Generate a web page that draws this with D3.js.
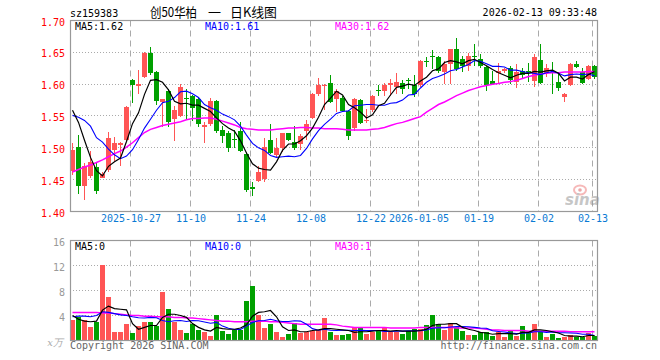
<!DOCTYPE html>
<html><head><meta charset="utf-8">
<script src="https://cdn.jsdelivr.net/npm/d3@7/dist/d3.min.js"></script>
<style>body{margin:0;background:#fff}svg{display:block}</style>
</head><body><svg id="c" width="660" height="360"></svg>
<script>
// ---------- data ----------
const tickIdx = [10,20,30,40,50,58,68,78,87];
const tickLabels = ["2025-10-27","11-10","11-24","12-08","12-22","2026-01-05","01-19","02-02","02-13"];
const priceTicks = [1.40,1.45,1.50,1.55,1.60,1.65,1.70];
const volTicks = [4,8,12,16];

const opens = [1.464,1.501,1.440,1.456,1.470,1.453,1.465,1.496,1.504,1.513,
1.606,1.597,1.612,1.649,1.619,1.572,1.589,1.545,1.550,1.579,
1.581,1.577,1.533,1.537,1.574,1.528,1.523,1.514,1.527,1.490,
1.438,1.448,1.451,1.513,1.489,1.500,1.523,1.509,1.506,1.527,
1.547,1.584,1.597,1.602,1.576,1.579,1.558,1.531,1.575,1.542,
1.560,1.591,1.589,1.598,1.595,1.602,1.606,1.599,1.598,1.637,
1.644,1.642,1.619,1.632,1.655,1.640,1.628,1.645,1.640,1.627,
1.605,1.617,1.620,1.626,1.604,1.620,1.620,1.605,1.638,1.617,
1.619,1.604,1.580,1.598,1.632,1.619,1.608,1.628];
const highs = [1.507,1.520,1.476,1.495,1.478,1.462,1.525,1.517,1.509,1.565,
1.608,1.622,1.650,1.658,1.621,1.577,1.592,1.566,1.600,1.593,
1.583,1.580,1.540,1.578,1.575,1.535,1.526,1.528,1.541,1.494,
1.446,1.472,1.515,1.538,1.515,1.524,1.524,1.534,1.521,1.543,
1.586,1.610,1.601,1.615,1.593,1.581,1.560,1.578,1.577,1.561,
1.583,1.599,1.602,1.608,1.617,1.606,1.610,1.614,1.638,1.643,
1.653,1.644,1.637,1.656,1.672,1.645,1.649,1.663,1.648,1.629,
1.621,1.634,1.626,1.628,1.632,1.626,1.633,1.647,1.663,1.632,
1.635,1.619,1.586,1.634,1.637,1.626,1.630,1.630];
const lows = [1.457,1.428,1.418,1.452,1.428,1.452,1.462,1.480,1.471,1.511,
1.570,1.585,1.610,1.614,1.567,1.533,1.532,1.510,1.548,1.546,
1.542,1.533,1.508,1.535,1.523,1.508,1.493,1.500,1.493,1.430,
1.425,1.447,1.446,1.490,1.485,1.494,1.511,1.497,1.496,1.512,
1.545,1.582,1.559,1.570,1.556,1.556,1.513,1.526,1.537,1.539,
1.556,1.581,1.582,1.582,1.585,1.585,1.593,1.580,1.596,1.627,
1.624,1.618,1.601,1.601,1.620,1.619,1.621,1.629,1.625,1.590,
1.600,1.600,1.618,1.600,1.594,1.610,1.603,1.596,1.600,1.612,
1.585,1.590,1.572,1.597,1.625,1.600,1.606,1.608];
const closes = [1.497,1.440,1.472,1.477,1.432,1.459,1.515,1.507,1.507,1.564,
1.598,1.600,1.649,1.617,1.573,1.576,1.541,1.560,1.596,1.578,
1.562,1.537,1.536,1.574,1.527,1.518,1.500,1.513,1.495,1.433,
1.436,1.462,1.502,1.492,1.500,1.523,1.513,1.500,1.519,1.538,
1.584,1.598,1.599,1.572,1.590,1.558,1.519,1.576,1.539,1.544,
1.581,1.590,1.598,1.602,1.604,1.593,1.605,1.584,1.637,1.636,
1.643,1.620,1.632,1.655,1.624,1.629,1.645,1.643,1.628,1.598,
1.601,1.620,1.624,1.607,1.619,1.614,1.619,1.643,1.602,1.626,
1.618,1.594,1.584,1.632,1.627,1.602,1.628,1.612];

const ma5 = [1.559,1.540,1.512,1.485,1.464,1.456,1.471,1.478,1.484,1.510,
1.538,1.555,1.584,1.606,1.607,1.603,1.591,1.573,1.569,1.570,
1.567,1.567,1.562,1.557,1.547,1.538,1.531,1.526,1.511,1.492,
1.475,1.468,1.466,1.465,1.478,1.496,1.506,1.506,1.511,1.519,
1.531,1.548,1.568,1.578,1.589,1.583,1.568,1.563,1.556,1.547,
1.552,1.566,1.570,1.583,1.595,1.597,1.600,1.598,1.605,1.611,
1.621,1.624,1.634,1.637,1.635,1.632,1.637,1.639,1.634,1.629,
1.623,1.618,1.614,1.610,1.614,1.617,1.617,1.620,1.619,1.621,
1.622,1.617,1.605,1.611,1.611,1.608,1.615,1.620];
const ma10 = [1.551,1.548,1.543,1.534,1.516,1.509,1.498,1.489,1.483,1.487,
1.497,1.513,1.531,1.545,1.559,1.571,1.573,1.579,1.588,1.589,
1.585,1.579,1.568,1.563,1.559,1.553,1.549,1.544,1.534,1.520,
1.507,1.500,1.496,1.488,1.485,1.486,1.487,1.486,1.488,1.499,
1.514,1.527,1.537,1.545,1.554,1.557,1.558,1.566,1.567,1.568,
1.568,1.567,1.567,1.570,1.571,1.575,1.583,1.584,1.594,1.603,
1.609,1.612,1.616,1.621,1.623,1.627,1.631,1.637,1.636,1.632,
1.628,1.628,1.627,1.622,1.622,1.620,1.618,1.617,1.615,1.618,
1.620,1.617,1.613,1.615,1.616,1.615,1.616,1.613];
const ma30 = [1.462,1.466,1.470,1.473,1.477,1.481,1.486,1.491,1.495,1.501,
1.508,1.516,1.524,1.529,1.532,1.535,1.537,1.539,1.541,1.544,
1.546,1.546,1.547,1.547,1.545,1.542,1.539,1.536,1.532,1.530,
1.529,1.528,1.528,1.528,1.529,1.530,1.531,1.531,1.532,1.532,
1.531,1.531,1.530,1.530,1.530,1.529,1.528,1.528,1.528,1.528,
1.529,1.530,1.532,1.535,1.538,1.540,1.543,1.546,1.549,1.556,
1.562,1.568,1.572,1.577,1.582,1.586,1.590,1.593,1.596,1.598,
1.600,1.601,1.603,1.604,1.606,1.609,1.612,1.614,1.616,1.617,
1.618,1.618,1.619,1.619,1.619,1.619,1.620,1.620];

const volumes = [3.3,3.8,3.3,2.1,3.0,12.1,7.0,1.4,1.4,2.7,
1.2,2.3,3.0,3.0,2.3,7.8,5.0,3.0,1.7,1.2,
2.7,1.7,1.4,0.7,4.1,1.5,1.1,1.7,1.7,6.3,
8.7,4.1,2.0,2.7,1.4,0.6,1.1,2.8,1.2,1.4,
1.5,1.7,3.6,1.4,0.9,0.9,1.1,2.1,2.0,1.1,
1.4,1.6,2.1,1.4,1.4,1.1,1.6,1.9,1.9,2.5,
4.1,2.6,1.7,2.8,2.1,1.5,0.9,0.9,1.3,1.3,
0.8,1.3,0.6,1.5,0.8,2.3,1.3,2.7,1.3,0.6,
1.1,0.4,0.6,0.9,0.6,0.6,1.2,0.7];
const volMa5 = [4.0,3.4,3.1,3.0,3.1,4.86,5.5,5.1,5.0,4.9,
2.7,1.8,2.1,2.4,2.4,3.7,4.2,4.2,4.0,3.7,
2.7,2.1,1.7,1.5,2.1,1.9,1.8,1.8,2.0,2.5,
3.9,4.5,4.6,4.8,3.8,2.2,1.6,1.7,1.4,1.4,
1.6,1.7,1.9,1.9,1.8,1.7,1.6,1.3,1.4,1.4,
1.5,1.6,1.6,1.5,1.6,1.5,1.5,1.5,1.6,1.8,
2.4,2.6,2.6,2.7,2.7,2.1,1.8,1.6,1.3,1.2,
1.0,1.1,1.1,1.1,1.0,1.3,1.3,1.7,1.7,1.6,
1.4,1.2,0.8,0.7,0.7,0.6,0.8,0.8];
const volMa10 = [3.8,3.9,3.9,3.8,4.0,4.6,4.5,4.3,4.1,4.0,
3.8,3.65,3.6,3.7,3.65,3.2,3.0,3.15,3.2,3.05,
3.2,3.15,2.95,2.75,2.9,2.3,1.95,1.75,1.75,2.3,
2.9,3.15,3.2,3.4,3.15,3.05,3.05,3.15,3.1,2.6,
1.9,1.65,1.8,1.65,1.6,1.65,1.65,1.6,1.65,1.6,
1.6,1.6,1.45,1.45,1.5,1.5,1.55,1.55,1.55,1.7,
1.95,2.05,2.05,2.15,2.25,2.25,2.2,2.1,2.0,1.95,
1.55,1.45,1.35,1.2,1.1,1.15,1.2,1.4,1.4,1.3,
1.35,1.25,1.25,1.2,1.15,1.0,1.0,0.8];
const volMa30 = [4.5,4.5,4.5,4.5,4.5,4.4,4.4,4.3,4.2,4.1,
4.0,4.0,3.9,3.9,3.8,3.8,3.8,3.7,3.7,3.6,
3.6,3.5,3.4,3.3,3.2,3.1,3.1,3.0,3.0,3.0,
3.1,3.1,3.1,3.0,3.0,2.9,2.8,2.7,2.6,2.6,
2.6,2.6,2.6,2.6,2.5,2.3,2.2,2.1,2.1,2.1,
2.1,2.1,2.1,2.0,2.0,2.0,2.0,2.0,2.1,2.1,
2.1,2.1,2.1,2.1,2.0,2.0,2.0,2.0,1.9,1.8,
1.7,1.7,1.6,1.6,1.6,1.6,1.5,1.5,1.5,1.5,
1.5,1.5,1.5,1.4,1.4,1.4,1.4,1.4];

// ---------- drawing ----------
const RED = "#ff5555", GREEN = "#00a000", GRID = "#aaaaaa", BORDER = "#999999";
const MONO = "'DejaVu Sans Mono', monospace";
const CJK = "'Noto Sans CJK SC', sans-serif";
const svg = d3.select("#c");
const N = closes.length;
const left = 70, right = 597.5;
const x = d3.scaleLinear().domain([0, 88]).range([70, 598]);
const y = d3.scaleLinear().domain([1.40, 1.70]).range([211.5, 20.5]);
const yv = d3.scaleLinear().domain([0, 16]).range([340.5, 240.5]);
const crisp = v => Math.floor(v) + 0.5;

function panel(scale, top, bottom, hTicks) {
  const g = svg.append("g");
  g.selectAll("line.h").data(hTicks).join("line")
    .attr("x1", left).attr("x2", right)
    .attr("y1", d => crisp(scale(d))).attr("y2", d => crisp(scale(d)))
    .attr("stroke", GRID).attr("stroke-dasharray", "1,2");
  g.selectAll("line.v").data(tickIdx).join("line")
    .attr("x1", d => x(d) + 0.5).attr("x2", d => x(d) + 0.5)
    .attr("y1", top).attr("y2", bottom)
    .attr("stroke", GRID).attr("stroke-dasharray", "6,4");
  return g;
}

panel(y, 20.5, 211.5, [1.45,1.50,1.55,1.60,1.65]);
panel(yv, 240.5, 340.5, [4,8,12]);

const defs = svg.append("defs");
defs.append("clipPath").attr("id","cm").append("rect").attr("x",70).attr("y",20).attr("width",528).attr("height",192);
defs.append("clipPath").attr("id","cv").append("rect").attr("x",70).attr("y",240).attr("width",528).attr("height",101);

// candles
const idx = d3.range(N);
const isUp = i => closes[i] >= opens[i];
const cg = svg.append("g").attr("shape-rendering","crispEdges");
cg.selectAll("rect.w").data(idx).join("rect")
  .attr("x", i => x(i) + 2).attr("width", 1)
  .attr("y", i => y(highs[i])).attr("height", i => Math.max(1, y(lows[i]) - y(highs[i])))
  .attr("fill", i => isUp(i) ? RED : GREEN);
cg.selectAll("rect.b").data(idx).join("rect")
  .attr("x", i => x(i)).attr("width", 5)
  .attr("y", i => y(Math.max(opens[i], closes[i])))
  .attr("height", i => Math.max(1, Math.abs(y(opens[i]) - y(closes[i]))))
  .attr("fill", i => isUp(i) ? RED : GREEN);

// volume bars
const vg = svg.append("g").attr("shape-rendering","crispEdges");
vg.selectAll("rect").data(idx).join("rect")
  .attr("x", i => x(i)).attr("width", 5)
  .attr("y", i => yv(volumes[i])).attr("height", i => yv(0) - yv(volumes[i]))
  .attr("fill", i => isUp(i) ? RED : GREEN);

// MA lines
function maLine(arr, scale, color, w, clip) {
  const line = d3.line().x((d, i) => x(i) + 2.5).y(d => scale(d));
  svg.append("path").datum(arr).attr("d", line)
    .attr("fill", "none").attr("stroke", color).attr("stroke-width", w)
    .attr("clip-path", "url(#" + clip + ")");
}
maLine(ma30, y, "#ff00ff", 1.5, "cm");
maLine(ma10, y, "#0000ff", 1.1, "cm");
maLine(ma5, y, "#000000", 1.2, "cm");
maLine(volMa30, yv, "#ff00ff", 1.5, "cv");
maLine(volMa10, yv, "#0000ff", 1.1, "cv");
maLine(volMa5, yv, "#000000", 1.2, "cv");

// borders
svg.append("rect").attr("x", 70.5).attr("y", 20.5).attr("width", 527).attr("height", 191)
  .attr("fill", "none").attr("stroke", BORDER).attr("stroke-width", 1.2);
svg.append("rect").attr("x", 70.5).attr("y", 240.5).attr("width", 527).attr("height", 100)
  .attr("fill", "none").attr("stroke", BORDER).attr("stroke-width", 1.2);

// price axis labels
const yAxis = d3.axisLeft(y).tickValues(priceTicks).tickFormat(d3.format(".2f")).tickSize(0).tickPadding(5);
const ya = svg.append("g").attr("transform", "translate(70,0)").call(yAxis);
ya.select(".domain").remove();
ya.selectAll("text").attr("fill", "#ff0000").attr("font-family", MONO).attr("font-size", 10).attr("dy", "0.45em");

// volume axis labels
const vAxis = d3.axisLeft(yv).tickValues(volTicks).tickFormat(d3.format("d")).tickSize(0).tickPadding(5);
const va = svg.append("g").attr("transform", "translate(70,0)").call(vAxis);
va.select(".domain").remove();
va.selectAll("text").attr("fill", "#999").attr("font-family", MONO).attr("font-size", 10).attr("dy", "0.45em");
svg.append("text").attr("x", 63).attr("y", 346).attr("text-anchor", "end")
  .attr("fill", "#aaa").attr("font-family", "'DejaVu Serif', serif").attr("font-style","italic").attr("font-size", 10).text("x万");

// date labels
const xAxis = d3.axisBottom(x).tickValues(tickIdx).tickFormat((d, i) => tickLabels[i]).tickSize(0).tickPadding(4);
const xa = svg.append("g").attr("transform", "translate(0,211)").call(xAxis);
xa.select(".domain").remove();
xa.selectAll("text").attr("fill", "#0a7ad4").attr("font-family", MONO).attr("font-size", 10).attr("x", 0.5);

// header texts
const T = (tx, ty, s, col, anchor, fam, size) => svg.append("text").attr("x", tx).attr("y", ty)
  .attr("fill", col).attr("text-anchor", anchor || "start")
  .attr("font-family", fam || MONO).attr("font-size", size || 10).text(s);
T(70, 17, "sz159383", "#000");
T(150, 17, "创50华柏", "#000", "start", CJK, 13).attr("textLength", 47).attr("lengthAdjust", "spacingAndGlyphs");
T(208, 17, "一", "#000", "start", CJK, 13);
T(230, 17, "日K线图", "#000", "start", CJK, 13).attr("textLength", 47).attr("lengthAdjust", "spacingAndGlyphs");
T(597, 16, "2026-02-13 09:33:48", "#000", "end");

// MA value labels
T(75, 29.5, "MA5:" + ma5[N-1].toFixed(2), "#000");
T(205, 29.5, "MA10:" + ma10[N-1].toFixed(2), "#0000ff");
T(335, 29.5, "MA30:" + ma30[N-1].toFixed(2), "#ff00ff");
T(75, 250, "MA5:" + Math.round(volMa5[N-1] - 0.5), "#000");
T(205, 250, "MA10:" + Math.round(volMa10[N-1] - 0.5), "#0000ff");
T(335, 250, "MA30:" + Math.round(volMa30[N-1] - 0.5), "#ff00ff");

// footer
T(70, 349, "Copyright 2026 SINA.COM", "#666");
T(597, 349, "http://finance.sina.com.cn", "#666", "end");

// sina watermark
const wm = svg.append("g").attr("opacity", 0.55);
wm.append("ellipse").attr("cx", 580).attr("cy", 190).attr("rx", 6).attr("ry", 4.5)
  .attr("fill", "none").attr("stroke", "#f08080").attr("stroke-width", 2);
wm.append("circle").attr("cx", 580).attr("cy", 190).attr("r", 1.8).attr("fill", "#e06060");
wm.append("text").attr("x", 565).attr("y", 205).attr("fill", "#999")
  .attr("font-family", "'DejaVu Sans', sans-serif").attr("font-weight", "bold").attr("font-style", "italic")
  .attr("font-size", 15).text("sina");
</script>
</body></html>
